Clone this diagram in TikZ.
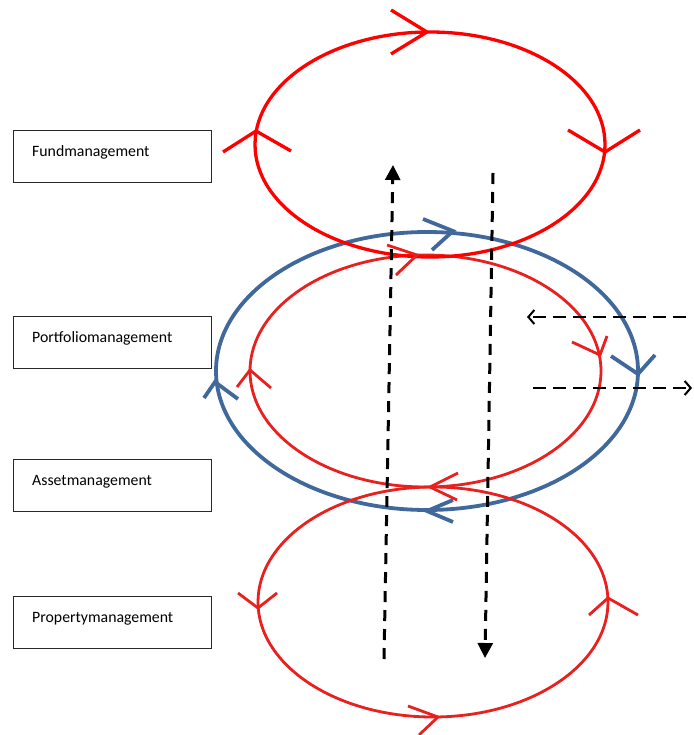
\documentclass[tikz,border=0pt]{standalone}
\usepackage{fontspec}
\setmainfont{Carlito}
\usetikzlibrary{arrows.meta}
\definecolor{loopred}{RGB}{255,0,0}
\definecolor{innerred}{RGB}{232,32,30}
\definecolor{loopblue}{RGB}{64,104,154}
\definecolor{boxline}{RGB}{40,40,40}
\begin{document}
\begin{tikzpicture}[x=1pt,y=-1pt,
  levelbox/.style={draw=boxline,line width=1.2pt,minimum width=198pt,minimum height=52pt,inner sep=0pt,anchor=north west},
  levellabel/.style={anchor=base west,inner sep=0pt,font=\fontsize{15.8}{19}\selectfont},
  fundloop/.style={draw=loopred,line width=3.3pt},
  portloop/.style={draw=loopblue,line width=3.8pt},
  assetloop/.style={draw=innerred,line width=2.8pt},
  proploop/.style={draw=innerred,line width=2.8pt},
  chevfund/.style={loopred,line width=3.3pt,line join=miter},
  chevport/.style={loopblue,line width=3.8pt,line join=miter},
  chevasset/.style={innerred,line width=2.8pt,line join=miter},
  flowv/.style={black,line width=3pt,dash pattern=on 11pt off 8pt,-{Triangle[length=15pt,width=15pt]}},
  flowh/.style={black,line width=2pt,dash pattern=on 13pt off 7pt,-{Straight Barb[length=6pt,width=14pt]}}]
\useasboundingbox (0,0) rectangle (693,735);

% management levels
\node[levelbox] (fund) at (12.5,130) {};
\node[levelbox] (portfolio) at (12.5,316) {};
\node[levelbox] (asset) at (12.5,459) {};
\node[levelbox] (property) at (12.5,596) {};
\node[levellabel] (fundtxt) at (32,156.7) {Fundmanagement};
\node[levellabel] (portfoliotxt) at (32,342.7) {Portfoliomanagement};
\node[levellabel] (assettxt) at (32,485.7) {Assetmanagement};
\node[levellabel] (propertytxt) at (32,622.7) {Propertymanagement};

% loop centres
\coordinate (cfund) at (430,144.5);
\coordinate (cport) at (427,371);
\coordinate (casset) at (425.5,371);
\coordinate (cprop) at (433,602);

% loops
\draw[portloop] (cport) ellipse [x radius=211, y radius=139];
\draw[assetloop] (casset) ellipse [x radius=175.5, y radius=116];
\draw[proploop] (cprop) ellipse [x radius=175, y radius=115];
\draw[fundloop] (cfund) ellipse [x radius=175, y radius=112.5];

% direction marks, fund loop
\draw[chevfund] (391,10) -- (427,32) -- (391,54);
\draw[chevfund] (223,152) -- (256,131) -- (291,151);
\draw[chevfund] (568,130) -- (605,152) -- (640,130);

% direction marks, portfolio loop
\draw[chevport] (423,219) -- (453,231) -- (432,250);
\draw[chevport] (204,398) -- (215,382) -- (238,399);
\draw[chevport] (611,356) -- (638,374) -- (655,355);
\draw[chevport] (453,500) -- (427,511) -- (453,522);

% direction marks, asset loop
\draw[chevasset] (387,245) -- (417,255) -- (396,275);
\draw[chevasset] (237,387) -- (250,370) -- (271,388);
\draw[chevasset] (572,342) -- (600,355) -- (607,336);
\draw[chevasset] (458,473) -- (430,487) -- (457,500);

% direction marks, property loop
\draw[chevasset] (238,593) -- (258,608) -- (277,593);
\draw[chevasset] (589,615) -- (608,598) -- (638,615);
\draw[chevasset] (408,706) -- (438,717) -- (419,735);

% vertical flows
\coordinate (upstart) at (384,659);
\coordinate (upend) at (393,165);
\coordinate (downstart) at (493,173);
\coordinate (downend) at (485,658);
\draw[flowv] (upstart) -- (upend);
\draw[flowv] (downstart) -- (downend);

% horizontal flows
\coordinate (instart) at (686,317);
\coordinate (inend) at (527,317);
\coordinate (outstart) at (533,388);
\coordinate (outend) at (692,388);
\draw[flowh] (instart) -- (inend);
\draw[flowh] (outstart) -- (outend);
\end{tikzpicture}
\end{document}
